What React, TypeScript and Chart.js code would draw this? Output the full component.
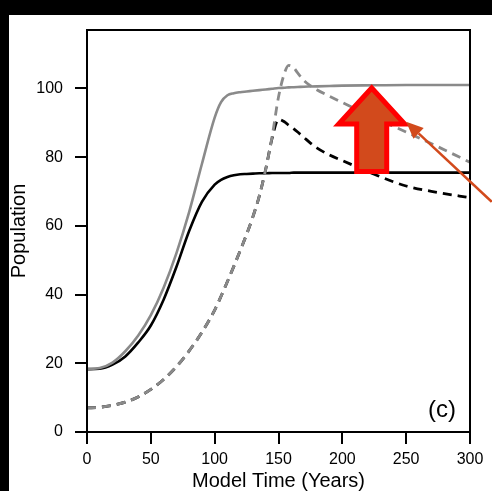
import React, { useEffect, useRef } from "react";
import { Chart, registerables } from "chart.js";

Chart.register(...registerables);

// Model time samples (years)
const YEARS = [0, 10, 20, 30, 40, 50, 60, 70, 80, 90, 100, 105, 110, 115, 120, 125, 130, 135, 140, 145, 150, 155, 158, 162, 165, 170, 175, 180, 190, 200, 225, 250, 275, 300];

// Population trajectories
const GRAY_SOLID = [18.3, 18.6, 20.2, 23.5, 28, 34, 42, 52, 64, 78, 91.5, 96, 98, 98.6, 98.9, 99.1, 99.3, 99.5, 99.7, 99.9, 100.1, 100.2, 100.3, 100.35, 100.4, 100.5, 100.55, 100.6, 100.7, 100.8, 100.9, 101, 101, 101];
const BLACK_SOLID = [18.3, 18.4, 19.6, 22, 26, 31, 38.5, 48, 58.5, 67, 72, 73.4, 74.2, 74.7, 75, 75.1, 75.2, 75.3, 75.3, 75.4, 75.4, 75.4, 75.4, 75.5, 75.5, 75.5, 75.5, 75.5, 75.5, 75.5, 75.5, 75.5, 75.5, 75.5];
const GRAY_DASHED = [7, 7.2, 7.8, 8.7, 10.2, 12.4, 15.3, 19, 23.6, 29, 35.5, 39.5, 43.8, 48.2, 52.8, 57.5, 62.7, 68.7, 76.5, 86, 97.5, 104.8, 106.7, 106, 104.5, 102.3, 100.8, 99.6, 97.7, 95.9, 91.5, 87.3, 83, 78.5];
const BLACK_DASHED = [7, 7.2, 7.8, 8.7, 10.2, 12.4, 15.3, 19, 23.6, 29, 35.5, 39.5, 43.8, 48.2, 52.8, 57.5, 62.7, 68.7, 76.5, 85.5, 91, 90.2, 89.3, 88.2, 87.3, 85.7, 84.1, 82.7, 80.6, 79, 75, 71.6, 69.7, 68.2];

const X_TICK_STEP = 50;
const Y_TICK_STEP = 20;
const PANEL_LABEL = "(c)";

const FONT = "'Liberation Sans', Arial, Helvetica, sans-serif";
const GRAY = "#8a8a8a";
const ORANGE = "#d24a1c";

const toPoints = (ys: number[]) => YEARS.map((x, i) => ({ x, y: ys[i] }));

// Frame around the plotting region plus the annotation arrows and panel label
const decorations = {
  id: "decorations",
  afterDatasetsDraw(chart: any) {
    const { ctx, chartArea, scales } = chart;
    const xs = scales.x;
    const ys = scales.y;
    ctx.save();

    // box
    ctx.strokeStyle = "#000";
    ctx.lineWidth = 2;
    ctx.strokeRect(chartArea.left, chartArea.top, chartArea.right - chartArea.left, chartArea.bottom - chartArea.top);

    // block arrow from the lower plateau up to the upper plateau
    const top = GRAY_SOLID[GRAY_SOLID.length - 1];
    const bottom = BLACK_SOLID[BLACK_SOLID.length - 1];
    const cx = xs.getPixelForValue(223);
    const tipY = ys.getPixelForValue(top) + 3;
    const baseY = ys.getPixelForValue(bottom) - 1;
    const headY = tipY + 36;
    const headHalf = 33;
    const shaftHalf = 15;
    ctx.beginPath();
    ctx.moveTo(cx, tipY);
    ctx.lineTo(cx + headHalf, headY);
    ctx.lineTo(cx + shaftHalf, headY);
    ctx.lineTo(cx + shaftHalf, baseY);
    ctx.lineTo(cx - shaftHalf, baseY);
    ctx.lineTo(cx - shaftHalf, headY);
    ctx.lineTo(cx - headHalf, headY);
    ctx.closePath();
    ctx.fillStyle = ORANGE;
    ctx.fill();
    ctx.lineJoin = "miter";
    ctx.strokeStyle = "#ff0000";
    ctx.lineWidth = 5;
    ctx.stroke();

    // pointer arrow coming in from the right
    const tx = xs.getPixelForValue(250);
    const ty = ys.getPixelForValue(90.3);
    const sx = xs.getPixelForValue(317);
    const sy = ys.getPixelForValue(67);
    const ang = Math.atan2(ty - sy, tx - sx);
    const len = 17;
    const half = 7.5;
    const bx = tx - len * Math.cos(ang);
    const by = ty - len * Math.sin(ang);
    ctx.strokeStyle = ORANGE;
    ctx.lineWidth = 2.5;
    ctx.beginPath();
    ctx.moveTo(sx, sy);
    ctx.lineTo(bx, by);
    ctx.stroke();
    ctx.fillStyle = ORANGE;
    ctx.beginPath();
    ctx.moveTo(tx, ty);
    ctx.lineTo(bx + half * Math.sin(ang), by - half * Math.cos(ang));
    ctx.lineTo(bx - half * Math.sin(ang), by + half * Math.cos(ang));
    ctx.closePath();
    ctx.fill();

    // panel label
    ctx.fillStyle = "#000";
    ctx.font = `24px ${FONT}`;
    ctx.textAlign = "center";
    ctx.textBaseline = "middle";
    ctx.fillText(PANEL_LABEL, xs.getPixelForValue(278), ys.getPixelForValue(6.4));
    ctx.restore();
  },
};

export default function App() {
  const ref = useRef<HTMLCanvasElement | null>(null);

  useEffect(() => {
    document.body.style.margin = "0";
    if (!ref.current) return;
    const line = (data: number[], color: string, dashed: boolean) => ({
      data: toPoints(data),
      borderColor: color,
      borderWidth: dashed ? 2.8 : 2.6,
      borderDash: dashed ? [9, 6] : [],
      pointRadius: 0,
      fill: false,
      cubicInterpolationMode: "monotone" as const,
    });
    const chart = new Chart(ref.current, {
      type: "line",
      data: {
        datasets: [
          line(GRAY_SOLID, GRAY, false),
          line(GRAY_DASHED, GRAY, true),
          line(BLACK_SOLID, "#000", false),
          line(BLACK_DASHED, "#000", true),
        ],
      },
      options: {
        animation: false,
        responsive: false,
        devicePixelRatio: 1,
        layout: { padding: { top: 15, right: 22, left: 0, bottom: 0 } },
        plugins: { legend: { display: false }, tooltip: { enabled: false } },
        scales: {
          x: {
            type: "linear",
            min: 0,
            max: 300,
            border: { display: true, color: "#000", width: 2 },
            grid: { drawOnChartArea: false, drawTicks: true, tickLength: 12, color: "#000", lineWidth: 2 },
            ticks: { stepSize: X_TICK_STEP, color: "#000", padding: 6, maxRotation: 0, font: { family: FONT, size: 16 } },
            title: { display: true, text: "Model Time (Years)", color: "#000", padding: 0, font: { family: FONT, size: 20, lineHeight: 1 } },
            afterFit: (s: any) => {
              s.height = 59;
              s.paddingLeft = 0;
              s.paddingRight = 0;
            },
          },
          y: {
            type: "linear",
            min: 0,
            max: 117,
            border: { display: true, color: "#000", width: 2 },
            grid: { drawOnChartArea: false, drawTicks: true, tickLength: 12, color: "#000", lineWidth: 2 },
            ticks: { stepSize: Y_TICK_STEP, includeBounds: false, color: "#000", padding: 12, font: { family: FONT, size: 16 } },
            title: { display: true, text: "Population", color: "#000", padding: 0, font: { family: FONT, size: 20, lineHeight: 1 } },
            afterFit: (s: any) => {
              s.width = 78;
              s.paddingTop = 0;
              s.paddingBottom = 0;
            },
          },
        },
      },
      plugins: [decorations],
    });
    return () => chart.destroy();
  }, []);

  return (
    <div style={{ position: "fixed", left: 0, top: 0, width: 492, height: 491, background: "#000", overflow: "hidden" }}>
      <canvas
        ref={ref}
        width={483}
        height={476}
        style={{ position: "absolute", left: 9, top: 15, width: 483, height: 476, background: "#fff" }}
      />
    </div>
  );
}
